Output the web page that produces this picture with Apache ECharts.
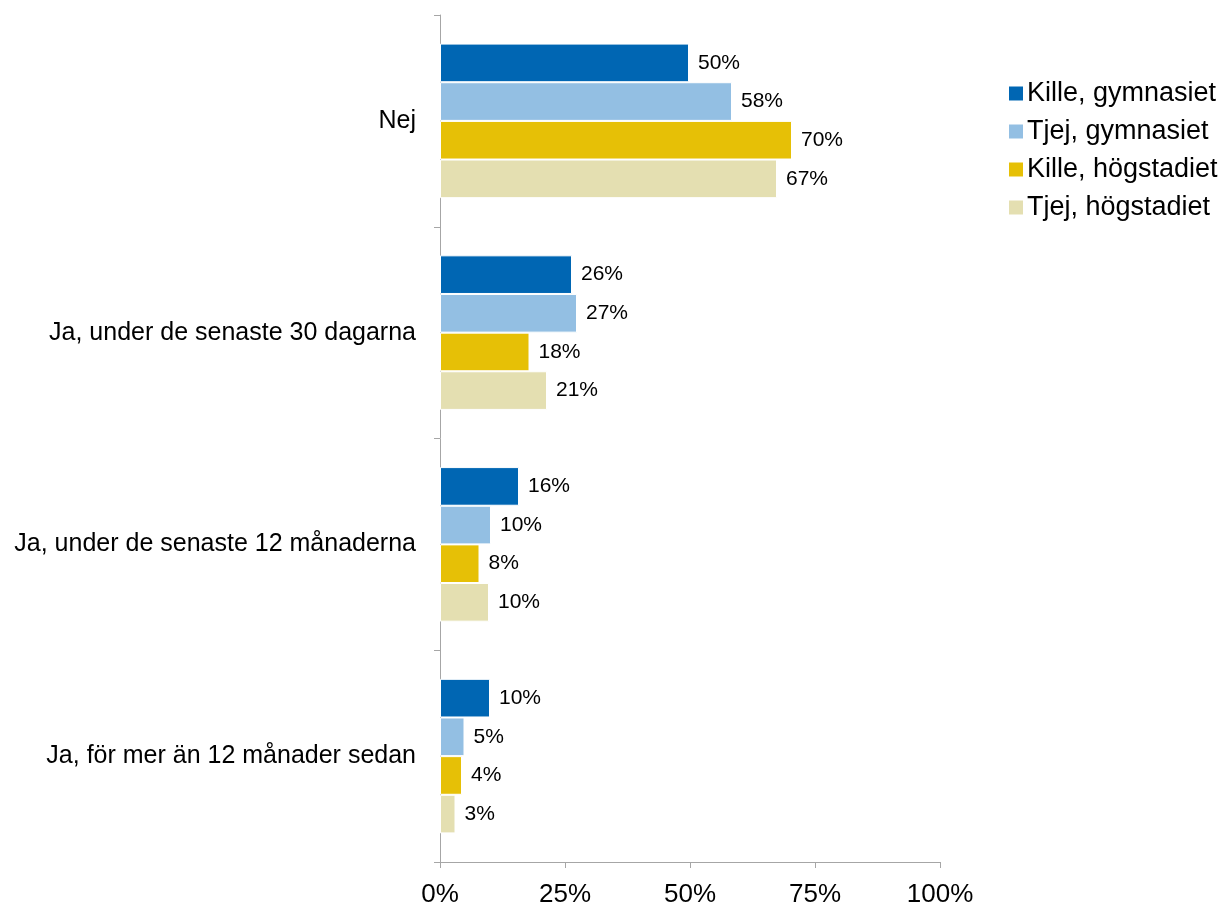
<!DOCTYPE html>
<html><head><meta charset="utf-8">
<script src="https://cdn.jsdelivr.net/npm/echarts@6/dist/echarts.min.js"></script>
<style>html,body{margin:0;padding:0;background:#fff}#c{width:1227px;height:908px}</style>
</head><body><div id="c"></div>
<script>
const categories = ["Nej", "Ja, under de senaste 30 dagarna", "Ja, under de senaste 12 månaderna", "Ja, för mer än 12 månader sedan"];
const seriesNames = ["Kille, gymnasiet", "Tjej, gymnasiet", "Kille, högstadiet", "Tjej, högstadiet"];
const killeGymnasiet = [49.8, 26.4, 15.8, 10.0];
const tjejGymnasiet = [58.4, 27.4, 10.2, 4.9];
const killeHogstadiet = [70.4, 17.9, 7.9, 4.4];
const tjejHogstadiet = [67.4, 21.4, 9.8, 3.1];
const xTicks = [0, 25, 50, 75, 100];
const colors = ["#0066b3", "#93bfe3", "#e6c006", "#e4dfb1"];
const values = [killeGymnasiet, tjejGymnasiet, killeHogstadiet, tjejHogstadiet];
const font = "Liberation Sans, Arial, sans-serif";
const chart = echarts.init(document.getElementById('c'));
chart.setOption({
  animation: false,
  grid: {left: 440, right: 287, top: 15, bottom: 46},
  legend: {
    orient: 'vertical', left: 1002, top: 75,
    itemWidth: 16, itemHeight: 16, itemGap: 11,
    icon: 'rect',
    textStyle: {fontFamily: font, fontSize: 27, lineHeight: 27, color: '#000', padding: [0,0,0,-2]},
    data: seriesNames
  },
  xAxis: {
    type: 'value', min: xTicks[0], max: xTicks[xTicks.length - 1], interval: 25,
    axisLine: {show: true, lineStyle: {color: '#a6a6a6'}},
    axisTick: {show: true, length: 6, lineStyle: {color: '#a6a6a6'}},
    splitLine: {show: false},
    axisLabel: {fontFamily: font, fontSize: 26, color: '#000', margin: 20, formatter: v => v + '%'}
  },
  yAxis: {
    type: 'category', data: categories, inverse: true,
    axisLine: {show: true, lineStyle: {color: '#a6a6a6'}},
    axisTick: {show: true, length: 6, lineStyle: {color: '#a6a6a6'}},
    axisLabel: {fontFamily: font, fontSize: 25, color: '#000', margin: 24}
  },
  series: seriesNames.map((n, i) => ({
    name: n, type: 'bar', data: values[i],
    barCategoryGap: '27%', barGap: '0%',
    itemStyle: {color: colors[i], borderColor: '#fff', borderWidth: 1},
    label: {show: true, position: 'right', distance: 9, fontFamily: font, fontSize: 21, color: '#000',
      formatter: p => Math.round(p.value) + '%'}
  }))
});
</script></body></html>
